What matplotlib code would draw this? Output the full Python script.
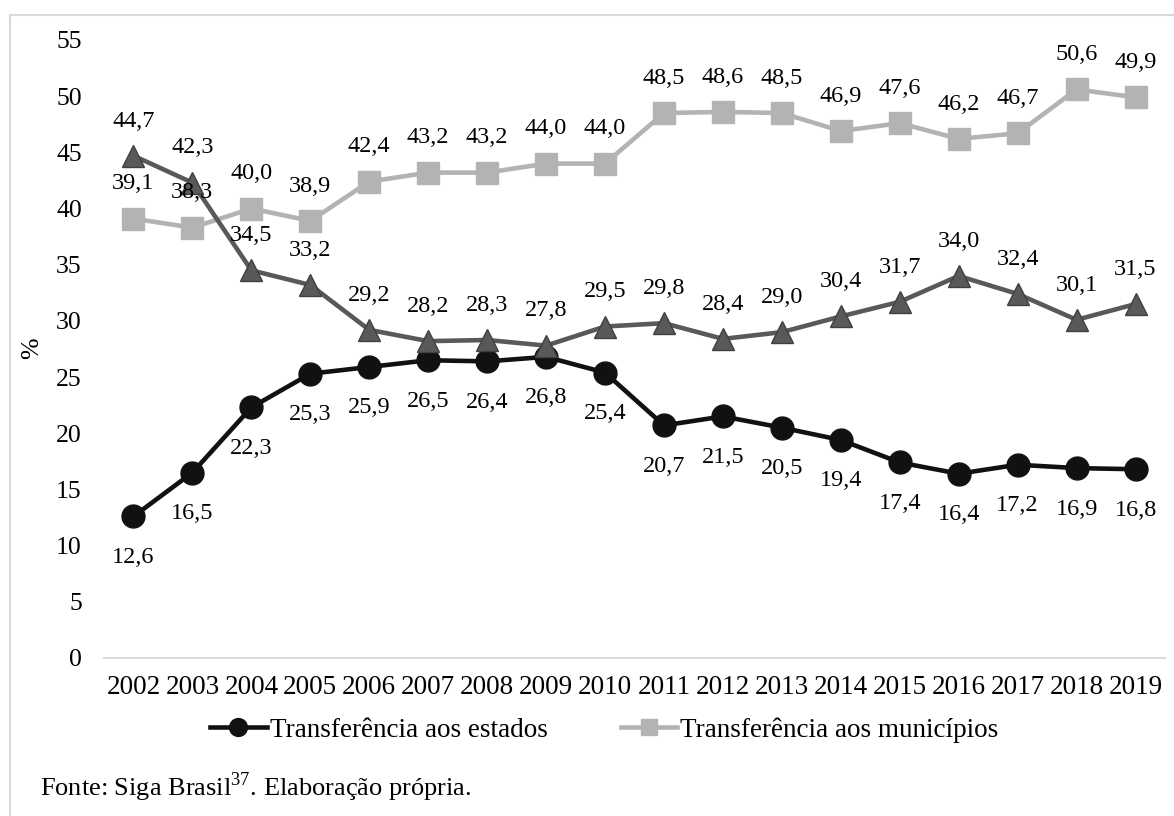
import matplotlib
matplotlib.use('Agg')
import matplotlib.pyplot as plt
from matplotlib.lines import Line2D

plt.rcParams['font.family'] = ['Liberation Serif', 'DejaVu Serif']
plt.rcParams['mathtext.fontset'] = 'custom'
plt.rcParams['mathtext.rm'] = 'Liberation Serif'

years = [str(y) for y in range(2002, 2020)]
estados = [12.6, 16.5, 22.3, 25.3, 25.9, 26.5, 26.4, 26.8, 25.4,
           20.7, 21.5, 20.5, 19.4, 17.4, 16.4, 17.2, 16.9, 16.8]
municipios = [39.1, 38.3, 40.0, 38.9, 42.4, 43.2, 43.2, 44.0, 44.0,
              48.5, 48.6, 48.5, 46.9, 47.6, 46.2, 46.7, 50.6, 49.9]
terceira = [44.7, 42.3, 34.5, 33.2, 29.2, 28.2, 28.3, 27.8, 29.5,
            29.8, 28.4, 29.0, 30.4, 31.7, 34.0, 32.4, 30.1, 31.5]

W, H = 1174, 816
fig = plt.figure(figsize=(W / 100, H / 100), dpi=100)
ax = fig.add_axes([104 / W, (H - 658) / H, (1165 - 104) / W, 618 / H])

x = list(range(len(years)))

ax.plot(x, estados, color='#111111', lw=3.3, marker='o', ms=16.5,
        mfc='#111111', mec='#111111', label='Transferência aos estados', zorder=3)
ax.plot(x, municipios, color='#b3b3b3', lw=3.3, marker='s', ms=15.5,
        mfc='#b3b3b3', mec='#b3b3b3', label='Transferência aos municípios', zorder=4)
ax.plot(x, terceira, color='#595959', lw=3.3, marker='^', ms=16,
        mfc='#595959', mec='#404040', mew=1, zorder=5)


def fmt(v):
    return f'{v:.1f}'.replace('.', ',')


for xi, v in zip(x, estados):
    ax.annotate(fmt(v), (xi, v), xytext=(0, -29.5), textcoords='offset points',
                ha='center', va='center', fontsize=17.5, zorder=10)
for xi, v in zip(x, municipios):
    ax.annotate(fmt(v), (xi, v), xytext=(0, 25), textcoords='offset points',
                ha='center', va='center', fontsize=17.5, zorder=10)
for xi, v in zip(x, terceira):
    ax.annotate(fmt(v), (xi, v), xytext=(0, 25), textcoords='offset points',
                ha='center', va='center', fontsize=17.5, zorder=10)

ax.set_xlim(-0.5, len(years) - 0.5)
ax.set_ylim(0, 55)
ax.set_yticks(range(0, 60, 5))
ax.set_xticks(x)
ax.set_xticklabels(years)
ax.tick_params(axis='y', length=0, pad=16, labelsize=18.5)
ax.tick_params(axis='x', length=0, pad=12, labelsize=19.5)
for s in ['top', 'right', 'left']:
    ax.spines[s].set_visible(False)
ax.spines['bottom'].set_color('#d9d9d9')
ax.spines['bottom'].set_linewidth(1.5)

fig.text(32 / W, 1 - 348 / H, '%', rotation=90, ha='center', va='center', fontsize=18.5)

fig.legend(loc='center left', bbox_to_anchor=(210 / W, 1 - 730 / H), ncol=2,
           frameon=False, fontsize=19.5, handlelength=2.1, handletextpad=0.1,
           columnspacing=2.7, borderpad=0, borderaxespad=0, numpoints=1,
           markerscale=0.78)

fig.text(40 / W, 1 - 787 / H, 'Fonte: Siga Brasil$^{37}$. Elaboração própria.',
         ha='left', va='center', fontsize=19)

# light frame around the whole figure
fig.add_artist(Line2D([10 / W, 10 / W], [0, 1 - 15 / H], transform=fig.transFigure,
                      color='#d9d9d9', lw=1.5))
fig.add_artist(Line2D([10 / W, 1], [1 - 15 / H, 1 - 15 / H], transform=fig.transFigure,
                      color='#d9d9d9', lw=1.5))

fig.savefig('out.png', dpi=100)
